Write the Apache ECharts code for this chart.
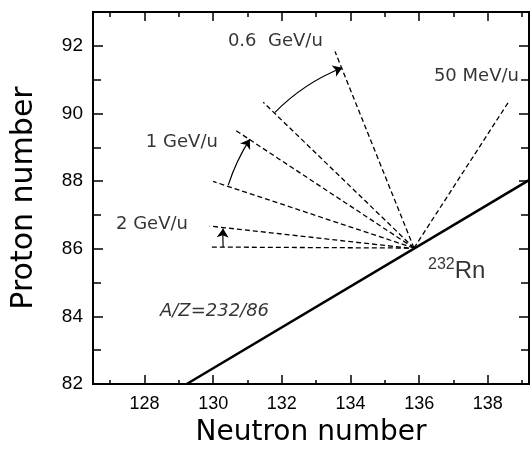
<!DOCTYPE html>
<html>
<head>
<meta charset="utf-8">
<script src="https://cdn.jsdelivr.net/npm/echarts@6/dist/echarts.min.js"></script>
<style>
html, body { margin: 0; padding: 0; background: #fff; }
#main { width: 530px; height: 456px; }
</style>
</head>
<body>
<div id="main"></div>
<script>
// tick values
const xMajor = [128, 130, 132, 134, 136, 138]
const xMinor = [127, 129, 131, 133, 135, 137, 139]
const yMajor = [82, 84, 86, 88, 90, 92]
const yMinor = [83, 85, 87, 89, 91, 93]

// dashed rays: start (near 232Rn) and far end, [N, Z]
const rayStarts = [[135.7, 86.02], [135.7, 86.02], [135.85, 86.02], [135.85, 86.02], [135.85, 86.02], [135.85, 86.02], [135.85, 86.02]]
const rayEnds = [[129.9, 86.05], [129.9, 86.67], [130.0, 87.99], [130.64, 89.51], [131.46, 90.33], [133.55, 91.83], [138.63, 90.38]]

// curved arrows between pairs of rays
const arrowStarts = [[130.29, 86.05], [130.44, 87.88], [131.8, 90.03]]
const arrowEnds = [[130.29, 86.6], [131.07, 89.24], [133.76, 91.35]]
const arrowBend = [0.024, 0.065, 0.105]

// A/Z = 232/86 line
const azLine = [[129.23, 82], [139.2, 88.03]]

// text annotations
const energyNames = ['2 GeV/u', '1 GeV/u', '0.6  GeV/u', '50 MeV/u']
const energyAt = [[127.17, 86.73], [128.04, 89.16], [130.43, 92.14], [136.43, 91.11]]
const azName = 'A/Z=232/86'
const azAt = [128.45, 84.16]
const rnAt = [136.26, 85.33]

const black = '#000'

function xAx (position, ticks, len, withLabels) {
  return {
    type: 'value',
    position: position,
    min: 126.5,
    max: 139.2,
    splitLine: { show: false },
    axisLine: { show: true, onZero: false, lineStyle: { color: black, width: 2 } },
    axisTick: { show: true, inside: true, length: len, customValues: ticks, lineStyle: { color: black, width: 1.5 } },
    axisLabel: withLabels
      ? { show: true, customValues: ticks, color: black, fontSize: 18, fontFamily: 'Liberation Sans', margin: 11 }
      : { show: false }
  }
}

function yAx (position, ticks, len, withLabels) {
  return {
    type: 'value',
    position: position,
    min: 82,
    max: 93,
    splitLine: { show: false },
    axisLine: { show: true, onZero: false, lineStyle: { color: black, width: 2 } },
    axisTick: { show: true, inside: true, length: len, customValues: ticks, lineStyle: { color: black, width: 1.5 } },
    axisLabel: withLabels
      ? { show: true, customValues: ticks, color: black, fontSize: 19, fontFamily: 'Liberation Sans', margin: 10 }
      : { show: false }
  }
}

const xBottom = xAx('bottom', xMajor, 9, true)
xBottom.name = 'Neutron number'
xBottom.nameLocation = 'middle'
xBottom.nameGap = 35
xBottom.nameTextStyle = { color: black, fontSize: 28, fontFamily: 'DejaVu Sans' }

const yLeft = yAx('left', yMajor, 10, true)
yLeft.name = 'Proton number'
yLeft.nameLocation = 'middle'
yLeft.nameGap = 54
yLeft.nameTextStyle = { color: black, fontSize: 30, fontFamily: 'DejaVu Sans' }

const rays = rayStarts.map((s, i) => ({ coords: [s, rayEnds[i]] }))
const arrows = arrowStarts.map((s, i) => ({ coords: [s, arrowEnds[i]], lineStyle: { curveness: arrowBend[i] } }))

const labelData = energyNames.map((n, i) => ({ name: n, value: energyAt[i] }))
labelData.push({ name: azName, value: azAt, label: { fontStyle: 'italic' } })

const dom = document.getElementById('main')
const myChart = echarts.init(dom, null, { renderer: 'canvas' })
const option = {
  animation: false,
  backgroundColor: '#fff',
  grid: { left: 93, top: 12, right: 1, bottom: 72, containLabel: false, outerBoundsMode: 'none' },
  xAxis: [
    xBottom,
    xAx('bottom', xMinor, 4, false),
    xAx('top', xMajor, 9, false),
    xAx('top', xMinor, 5, false)
  ],
  yAxis: [
    yLeft,
    yAx('left', yMinor, 8, false),
    yAx('right', yMajor, 10, false),
    yAx('right', yMinor, 8, false)
  ],
  series: [
    {
      name: 'A/Z line',
      type: 'lines',
      coordinateSystem: 'cartesian2d',
      silent: true,
      lineStyle: { color: black, width: 2.6, opacity: 1 },
      data: [{ coords: azLine }]
    },
    {
      name: 'rays',
      type: 'lines',
      coordinateSystem: 'cartesian2d',
      silent: true,
      lineStyle: { color: black, width: 1.3, type: [5, 3], opacity: 1 },
      data: rays
    },
    {
      name: 'arrows',
      type: 'lines',
      coordinateSystem: 'cartesian2d',
      silent: true,
      symbol: ['none', 'arrow'],
      symbolSize: 9,
      lineStyle: { color: black, width: 1.2, opacity: 1 },
      data: arrows
    },
    {
      name: 'labels',
      type: 'scatter',
      silent: true,
      symbolSize: 0,
      label: {
        show: true,
        position: 'right',
        distance: 0,
        formatter: p => p.name,
        color: black,
        fontSize: 18,
        fontFamily: 'DejaVu Sans'
      },
      data: labelData
    },
    {
      name: 'Rn',
      type: 'scatter',
      silent: true,
      symbolSize: 0,
      label: {
        show: true,
        position: 'right',
        distance: 0,
        formatter: '{s|232}{b|Rn}',
        rich: {
          s: { fontSize: 16, lineHeight: 16, verticalAlign: 'top', color: black, fontFamily: 'Liberation Sans' },
          b: { fontSize: 24, lineHeight: 30, color: black, fontFamily: 'Liberation Sans' }
        }
      },
      data: [{ name: '232Rn', value: rnAt }]
    }
  ]
}
myChart.setOption(option)
</script>
</body>
</html>
